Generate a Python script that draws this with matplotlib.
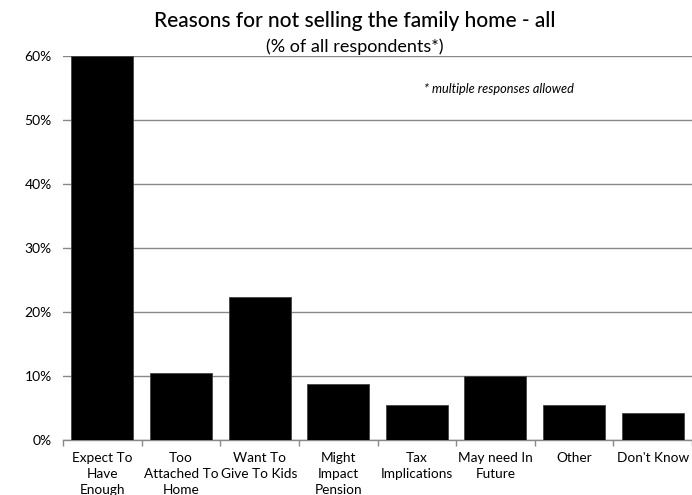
import matplotlib
matplotlib.use("Agg")
import matplotlib.pyplot as plt
import numpy as np

categories = ["Expect To\nHave\nEnough", "Too\nAttached To\nHome", "Want To\nGive To Kids",
              "Might\nImpact\nPension", "Tax\nImplications", "May need In\nFuture",
              "Other", "Don't Know"]
values = [60.0, 10.4, 22.4, 8.8, 5.4, 10.0, 5.4, 4.2]
yticks = [0, 10, 20, 30, 40, 50, 60]
ytick_labels = ["0%", "10%", "20%", "30%", "40%", "50%", "60%"]

plt.rcParams["font.family"] = ["Lato", "DejaVu Sans"]

fig = plt.figure(figsize=(6.92, 4.95), dpi=100)
ax = fig.add_axes([63 / 692, 1 - 440 / 495, 1 - 63 / 692, (440 - 56) / 495])

x = np.arange(len(categories))
ax.bar(x, values, width=0.79, color="black", edgecolor="#444444", linewidth=0.6, zorder=3)

ax.set_xlim(-0.5, len(categories) - 0.5)
ax.set_ylim(0, 60)
ax.set_yticks(yticks)
ax.set_yticklabels(ytick_labels, fontsize=10)
ax.yaxis.grid(True, color="#888888", linewidth=1.0, zorder=0)
ax.tick_params(axis="y", length=0, pad=8)

ax.set_xticks(x)
ax.set_xticklabels(categories, fontsize=9.8, linespacing=1.35)
ax.tick_params(axis="x", length=0, pad=9)
ax.set_xticks(np.arange(len(categories) + 1) - 0.5, minor=True)
ax.tick_params(axis="x", which="minor", length=4, color="#888888", width=1.0)

for side in ["left", "right", "top"]:
    ax.spines[side].set_visible(False)
ax.spines["bottom"].set_color("#888888")
ax.spines["bottom"].set_linewidth(1.0)

fig.text(0.512, 0.958, "Reasons for not selling the family home - all",
         ha="center", va="center", fontsize=15, weight="medium")
fig.text(0.512, 0.905, "(% of all respondents*)", ha="center", va="center", fontsize=13)
ax.text(0.574, 0.915, "* multiple responses allowed", transform=ax.transAxes,
        ha="left", va="center", fontsize=9.2, style="italic")

fig.savefig("out.png", dpi=100)
